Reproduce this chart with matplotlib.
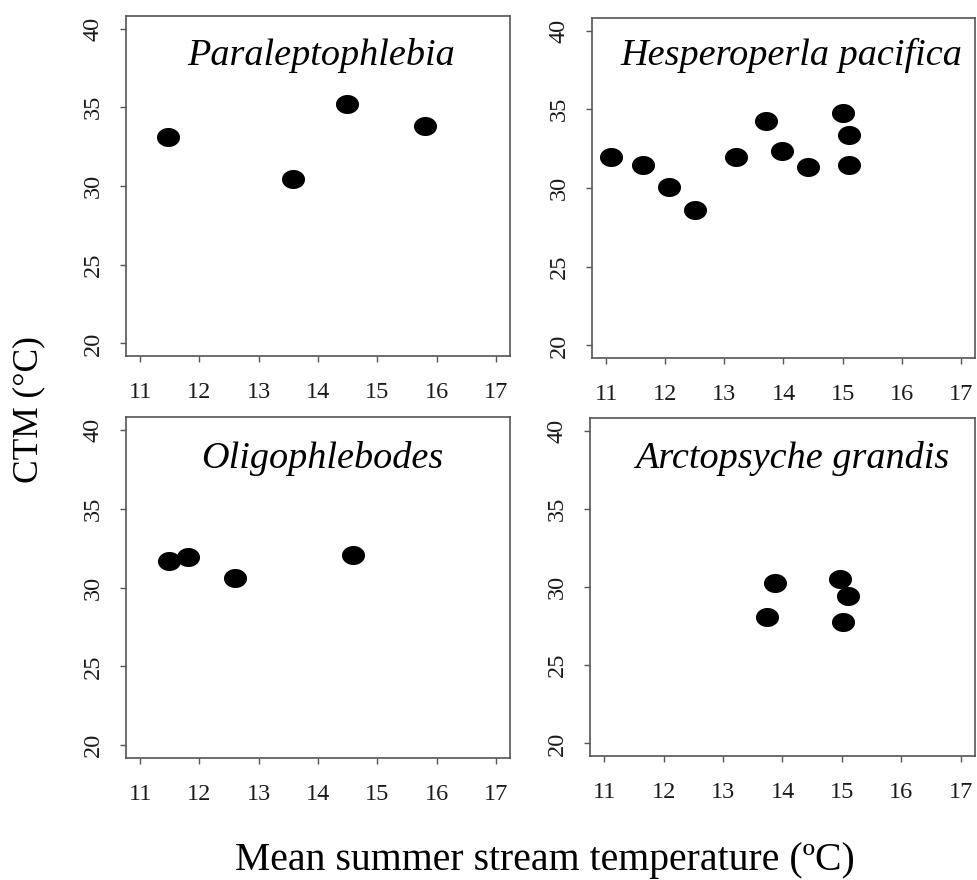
import numpy as np
import matplotlib
matplotlib.use("Agg")
import matplotlib.pyplot as plt
from matplotlib.path import Path

plt.rcParams['font.family'] = ['Liberation Serif', 'DejaVu Serif']

# Critical thermal maximum vs. mean summer stream temperature, per taxon
taxa = ["Paraleptophlebia", "Hesperoperla pacifica",
        "Oligophlebodes", "Arctopsyche grandis"]

para_temp = [11.47, 13.58, 14.49, 15.81]
para_ctm = [33.1, 30.45, 35.2, 33.8]

hesp_temp = [11.08, 11.62, 12.06, 12.51, 13.19, 13.71, 13.97, 14.42, 15.00, 15.10, 15.10]
hesp_ctm = [31.96, 31.46, 30.04, 28.63, 31.99, 34.24, 32.32, 31.31, 34.79, 33.38, 31.46]

olig_temp = [11.48, 11.81, 12.60, 14.59]
olig_ctm = [31.67, 31.96, 30.63, 32.07]

arct_temp = [13.88, 13.74, 14.97, 15.10, 15.01]
arct_ctm = [30.25, 28.07, 30.53, 29.45, 27.79]

series = [(para_temp, para_ctm), (hesp_temp, hesp_ctm),
          (olig_temp, olig_ctm), (arct_temp, arct_ctm)]

x_ticks = [11, 12, 13, 14, 15, 16, 17]
y_ticks = [20, 25, 30, 35, 40]

# label anchor (x, baseline y) in data units
label_pos = [(14.05, 37.68), (14.14, 37.8), (14.07, 37.6), (14.17, 37.6)]

W, H = 978, 880
fig = plt.figure(figsize=(W / 100, H / 100), dpi=100)

# axes boxes in pixels: left, top, right, bottom
boxes = [(126, 16, 510, 356), (592, 18, 975, 358),
         (126, 417, 510, 758), (590, 418, 975, 756)]

# slightly wide elliptical dot
t = np.linspace(0, 2 * np.pi, 60)
ell = Path(np.column_stack([1.21 * np.cos(t), np.sin(t)]), closed=True)

frame_col = "#555555"
for (l, tp, r, b), name, (xs, ys), (lx, ly) in zip(boxes, taxa, series, label_pos):
    ax = fig.add_axes([l / W, 1 - b / H, (r - l) / W, (b - tp) / H])
    ax.plot(xs, ys, linestyle="none", marker=ell, ms=16.6,
            color="black", markeredgewidth=0)
    ax.set_xlim(10.76, 17.24)
    ax.set_ylim(19.2, 40.8)
    ax.set_xticks(x_ticks)
    ax.set_yticks(y_ticks)
    ax.tick_params(axis="both", direction="out", length=4.5, width=1.0,
                   color=frame_col, labelsize=17.5, labelcolor="#1a1a1a")
    ax.tick_params(axis="x", pad=14)
    ax.tick_params(axis="y", pad=11.5)
    for lab in ax.get_yticklabels():
        lab.set_rotation(90)
        lab.set_va("center")
    for sp in ax.spines.values():
        sp.set_color(frame_col)
        sp.set_linewidth(1.2)
    ax.text(lx, ly, name, style="italic", fontsize=27.5, ha="center",
            va="baseline", color="black")

fig.text(29 / W, 1 - 410 / H, "CTM (°C)", rotation=90, fontsize=25.5,
         ha="center", va="center")
fig.text(545 / W, 1 - 870 / H, "Mean summer stream temperature (ºC)",
         fontsize=28.6, ha="center", va="baseline")

fig.savefig("out.png", dpi=100, facecolor="white")
